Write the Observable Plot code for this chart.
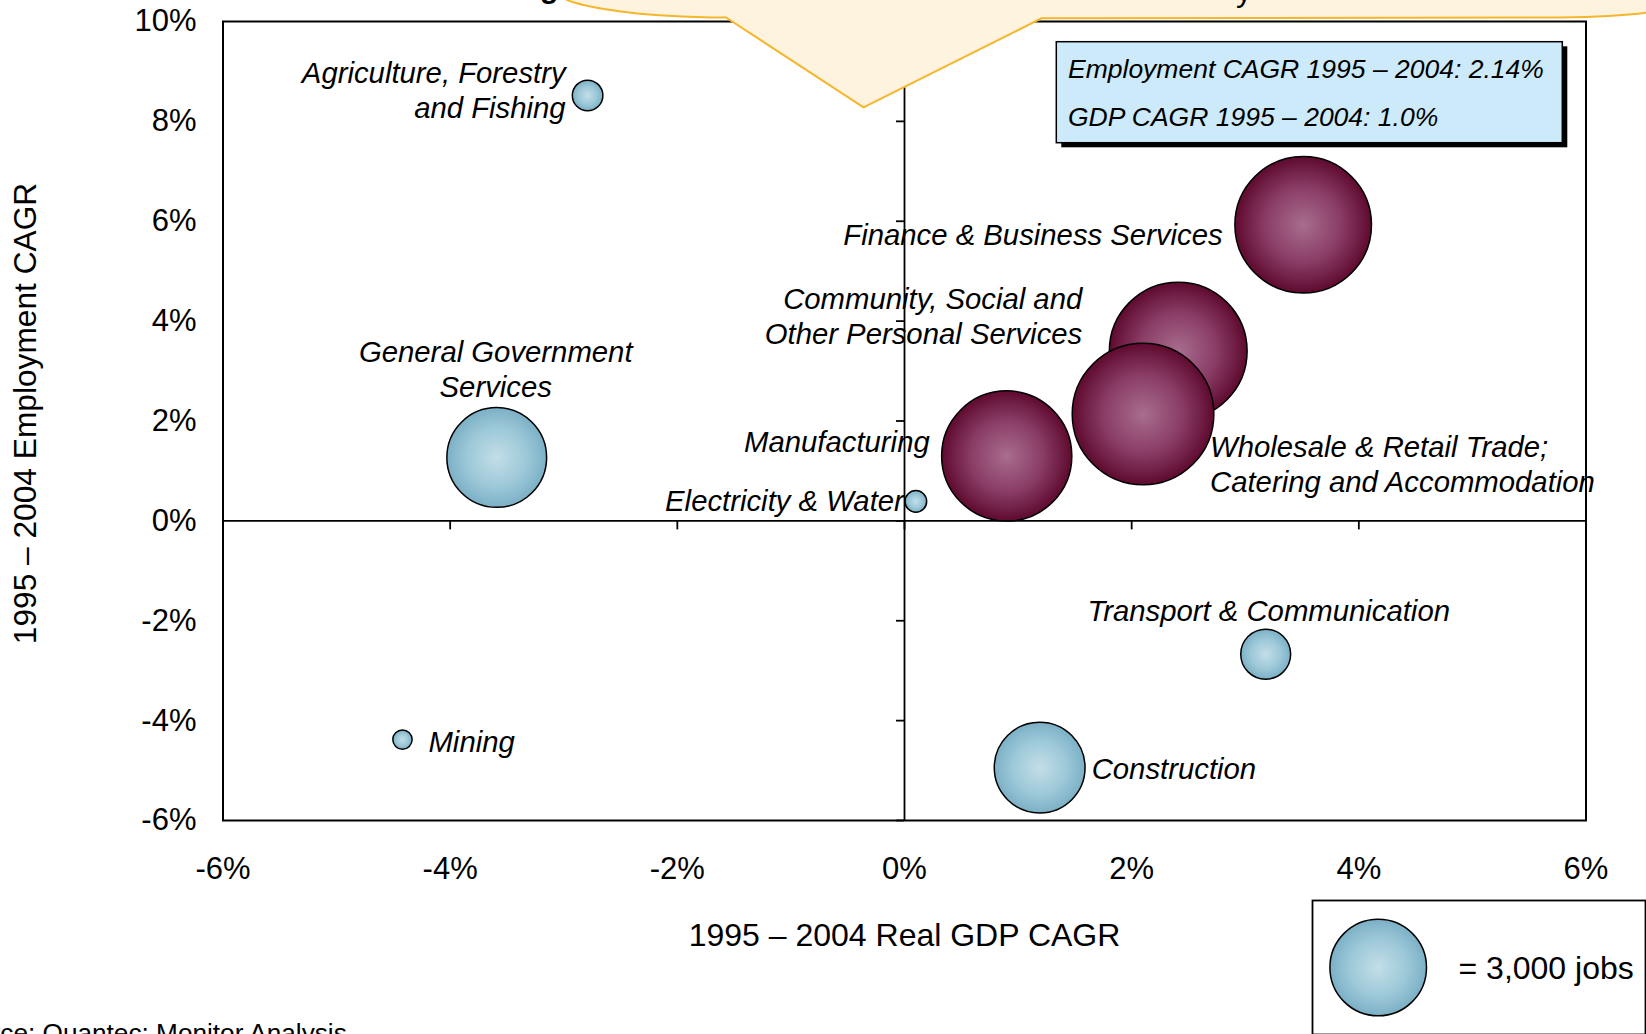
<!DOCTYPE html>
<html>
<head>
<meta charset="utf-8">
<script src="https://cdn.jsdelivr.net/npm/d3@7"></script>
<script src="https://cdn.jsdelivr.net/npm/@observablehq/plot@0.6"></script>
<style>
  html, body { margin: 0; padding: 0; background: #fff; overflow: hidden; }
  #wrap { position: relative; width: 1646px; height: 1034px; overflow: hidden; font-family: "Liberation Sans", Arial, sans-serif; }
  #wrap > svg, #wrap > .abs { position: absolute; }
</style>
</head>
<body>
<div id="wrap"></div>
<script>
// ---------------- data ----------------
const sectors = [
  "Agriculture, Forestry and Fishing",
  "General Government Services",
  "Electricity & Water",
  "Manufacturing",
  "Community, Social and Other Personal Services",
  "Wholesale & Retail Trade; Catering and Accommodation",
  "Finance & Business Services",
  "Transport & Communication",
  "Construction",
  "Mining"
];
const labels = [
  "Agriculture, Forestry\nand Fishing",
  "General Government\nServices",
  "Electricity & Water",
  "Manufacturing",
  "Community, Social and\nOther Personal Services",
  "Wholesale & Retail Trade;\nCatering and Accommodation",
  "Finance & Business Services",
  "Transport & Communication",
  "Construction",
  "Mining"
];
const gdpCagr = [-2.79, -3.59, 0.10, 0.90, 2.41, 2.10, 3.51, 3.18, 1.19, -4.42];
const empCagr = [8.52, 1.27, 0.39, 1.30, 3.40, 2.14, 5.93, -2.67, -4.94, -4.38];
const jobs    = [300, 3200, 150, 5450, 6100, 6450, 6000, 800, 2650, 120];
const group   = ["other", "other", "other", "leading", "leading", "leading", "leading", "other", "other", "other"];

const xTicks = [-6, -4, -2, 0, 2, 4, 6];
const yTicks = [-6, -4, -2, 0, 2, 4, 6, 8, 10];
const xTitle = "1995 – 2004 Real GDP CAGR";
const yTitle = "1995 – 2004 Employment CAGR";
const summaryLabels = ["Employment CAGR 1995 – 2004", "GDP CAGR 1995 – 2004"];
const summaryValues = ["2.14%", "1.0%"];
const legendJobs = 3000;
const sourceText = "Source: Quantec; Monitor Analysis";

// ---------------- layout (styles) ----------------
const labelLayout = {
  "Agriculture, Forestry and Fishing": {anchor: "end", dx: -22, dy: -6},
  "General Government Services": {anchor: "middle", dx: -1, dy: -89},
  "Electricity & Water": {anchor: "end", dx: -12, dy: -1.5},
  "Manufacturing": {anchor: "end", dx: -77, dy: -15},
  "Community, Social and Other Personal Services": {anchor: "end", dx: -96, dy: -36},
  "Wholesale & Retail Trade; Catering and Accommodation": {anchor: "start", dx: 67, dy: 49},
  "Finance & Business Services": {anchor: "end", dx: -80.5, dy: 9},
  "Transport & Communication": {anchor: "middle", dx: 3, dy: -44},
  "Construction": {anchor: "start", dx: 52, dy: 0},
  "Mining": {anchor: "start", dx: 26, dy: 1.5}
};

const rows = sectors.map((s, i) => ({
  sector: s, label: labels[i], gdp: gdpCagr[i], emp: empCagr[i], jobs: jobs[i], group: group[i]
}));

const FONT = '"Liberation Sans", Arial, sans-serif';
const rScale = {type: "sqrt", domain: [0, legendJobs], range: [0, 48.3]};
const pct = d => `${d}%`;

const W = 1646, H = 1034;
const chart = Plot.plot({
  width: W, height: H,
  marginLeft: 222.5, marginRight: 60.5, marginTop: 21, marginBottom: 214,
  style: {fontFamily: FONT, fontSize: "30px", color: "black", background: "transparent", overflow: "visible"},
  x: {domain: [-6, 6]},
  y: {domain: [-6, 10]},
  r: rScale,
  marks: [
    Plot.frame({stroke: "black", strokeWidth: 2}),
    Plot.dot(rows.filter(d => d.group === "other"), {x: "gdp", y: "emp", r: "jobs", sort: null, fill: "url(#gradBlue)", stroke: "black", strokeWidth: 1.5}),
    Plot.dot(rows.filter(d => d.group === "leading"), {x: "gdp", y: "emp", r: "jobs", sort: null, fill: "url(#gradMaroon)", stroke: "black", strokeWidth: 1.5}),
    ...rows.map(d => {
      const L = labelLayout[d.sector];
      return Plot.text([d], {x: "gdp", y: "emp", text: "label", dx: L.dx, dy: L.dy,
        textAnchor: L.anchor, lineAnchor: "middle", lineHeight: 1.2,
        fontSize: 29.3, fontStyle: "italic", fill: "black"});
    }),
    Plot.ruleX([0], {stroke: "black", strokeWidth: 1.8}),
    Plot.ruleY([0], {stroke: "black", strokeWidth: 1.8}),
    Plot.ruleX(xTicks, {x: d => d, y1: 0, y2: 0, insetBottom: -9, stroke: "black", strokeWidth: 1.8}),
    Plot.ruleY(yTicks, {y: d => d, x1: 0, x2: 0, insetLeft: -8, stroke: "black", strokeWidth: 1.8}),
    Plot.axisX({ticks: xTicks, anchor: "bottom", tickSize: 0, tickPadding: 36, tickFormat: pct, fontSize: 31, label: null}),
    Plot.axisY({ticks: yTicks, anchor: "left", tickSize: 0, tickPadding: 26.5, tickFormat: pct, fontSize: 31, label: null}),
    Plot.text([xTitle], {frameAnchor: "bottom", dy: 115, textAnchor: "middle", lineAnchor: "middle", fontSize: 32, fill: "black"}),
    Plot.text([yTitle], {frameAnchor: "left", rotate: -90, dx: -197, dy: -7.5, textAnchor: "middle", lineAnchor: "middle", fontSize: 31.7, fill: "black"})
  ]
});

const wrap = document.getElementById("wrap");
const mainSvg = chart.tagName.toLowerCase() === "svg" ? chart : chart.querySelector("svg");
mainSvg.style.left = "0px"; mainSvg.style.top = "0px";
wrap.appendChild(chart);

// gradients
const defsMarkup = `
<radialGradient id="gradBlue" cx="50%" cy="50%" r="50%">
  <stop offset="0%" stop-color="#c3dee7"/>
  <stop offset="60%" stop-color="#9cc8d8"/>
  <stop offset="100%" stop-color="#7cb0c6"/>
</radialGradient>
<radialGradient id="gradMaroon" cx="50%" cy="50%" r="50%">
  <stop offset="0%" stop-color="#a86d8f"/>
  <stop offset="55%" stop-color="#8a3d66"/>
  <stop offset="100%" stop-color="#5f0a2f"/>
</radialGradient>`;
function addDefs(svg) {
  const defs = document.createElementNS("http://www.w3.org/2000/svg", "defs");
  defs.innerHTML = defsMarkup;
  svg.insertBefore(defs, svg.firstChild);
}
addDefs(mainSvg);

// legend (same r scale)
const legend = Plot.plot({
  width: 335, height: 136,
  marginLeft: 1, marginRight: 1, marginTop: 1, marginBottom: 1,
  style: {fontFamily: FONT, fontSize: "32px", color: "black", background: "transparent", overflow: "visible"},
  r: rScale,
  marks: [
    Plot.frame({stroke: "black", strokeWidth: 1.8}),
    Plot.dot([legendJobs], {r: d => d, frameAnchor: "left", dx: 65.7, fill: "url(#gradBlue2)", stroke: "black", strokeWidth: 1.5}),
    Plot.text([legendJobs], {text: d => `= ${d3.format(",")(d)} jobs`, frameAnchor: "left", dx: 146, dy: 1, textAnchor: "start", lineAnchor: "middle", fontSize: 32, fill: "black"})
  ]
});
const legSvg = legend.tagName.toLowerCase() === "svg" ? legend : legend.querySelector("svg");
legSvg.style.position = "absolute";
legSvg.style.left = "1311px"; legSvg.style.top = "899px";
{
  const defs = document.createElementNS("http://www.w3.org/2000/svg", "defs");
  defs.innerHTML = defsMarkup.replace('id="gradBlue"', 'id="gradBlue2"').replace('id="gradMaroon"', 'id="gradMaroon2"');
  legSvg.insertBefore(defs, legSvg.firstChild);
}
wrap.appendChild(legend);

// overlay: callout bubble, summary box, source
const NS = "http://www.w3.org/2000/svg";
const ov = document.createElementNS(NS, "svg");
ov.setAttribute("width", W); ov.setAttribute("height", H);
ov.style.position = "absolute"; ov.style.left = "0px"; ov.style.top = "0px"; ov.style.overflow = "hidden";
ov.setAttribute("font-family", FONT);
ov.innerHTML = `
  <text x="540" y="-2" font-size="30" font-weight="bold" fill="black">g</text>
  <path d="M 560,-10 L 567,0 C 585,7 635,17 726,17.5 L 863.5,107.3 L 1041.5,18.3 L 1560,17.5 Q 1620,17 1652,12 L 1652,-10 Z"
        fill="#fdf3de" stroke="#f6b62c" stroke-width="2" stroke-linejoin="miter"/>
  <text x="1236" y="1" font-size="32" fill="black">y</text>
  <rect x="1061.3" y="46.3" width="506" height="101" fill="black"/>
  <rect x="1056.3" y="41.7" width="506" height="101" fill="#cdeafb" stroke="black" stroke-width="1.5"/>
  <text id="s1" x="1068" y="78.3" font-size="26.5" font-style="italic" fill="black"></text>
  <text id="s2" x="1068" y="126" font-size="26.5" font-style="italic" fill="black"></text>
  <text id="src" x="-55" y="1042" font-size="26.2" fill="black"></text>
`;
ov.querySelector("#s1").textContent = `${summaryLabels[0]}: ${summaryValues[0]}`;
ov.querySelector("#s2").textContent = `${summaryLabels[1]}: ${summaryValues[1]}`;
ov.querySelector("#src").textContent = sourceText;
wrap.appendChild(ov);
</script>
</body>
</html>
